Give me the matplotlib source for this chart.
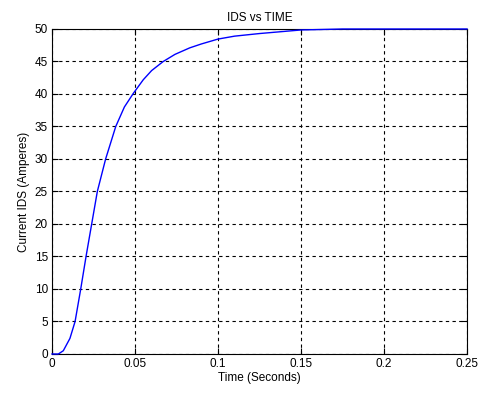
import matplotlib
matplotlib.use("Agg")
import matplotlib.pyplot as plt

# Data
time_s = [0.0, 0.0038, 0.0068, 0.0108, 0.0139, 0.0173, 0.0205, 0.0239, 0.0273,
          0.0323, 0.0384, 0.0436, 0.049, 0.055, 0.060, 0.067, 0.0741, 0.083,
          0.090, 0.100, 0.110, 0.125, 0.150, 0.175, 0.250]
current_a = [0.0, 0.0, 0.5, 2.4, 5.0, 10.0, 15.0, 20.0, 25.0,
             30.0, 35.0, 38.0, 40.1, 42.2, 43.6, 45.0, 46.1, 47.1,
             47.7, 48.45, 48.9, 49.3, 49.85, 50.0, 50.0]
xticks = [0, 0.05, 0.1, 0.15, 0.2, 0.25]
xticklabels = ["0", "0.05", "0.1", "0.15", "0.2", "0.25"]
yticks = [0, 5, 10, 15, 20, 25, 30, 35, 40, 45, 50]

plt.rcParams['font.family'] = ['Liberation Sans', 'DejaVu Sans']
fig = plt.figure(figsize=(4.82, 3.95), dpi=100)
ax = fig.add_axes([0.1079, 0.1038, 0.861, 0.8228])
ax.plot(time_s, current_a, color=(0, 0, 1), lw=1.0, clip_on=False, zorder=3)
ax.set_xlim(0, 0.25)
ax.set_ylim(0, 50)
ax.set_xticks(xticks)
ax.set_xticklabels(xticklabels)
ax.set_yticks(yticks)
ax.grid(True, color='black', linestyle=(0, (3, 3)), linewidth=0.8)
ax.tick_params(direction='in', top=True, right=True, labelsize=8.5, length=4, pad=3)
for s in ax.spines.values():
    s.set_linewidth(0.8)
ax.set_title("IDS vs TIME", fontsize=8.5, pad=6)
ax.set_xlabel("Time (Seconds)", fontsize=8.5, labelpad=1)
ax.set_ylabel("Current IDS (Amperes)", fontsize=8.5, labelpad=3)
fig.savefig("out.png", dpi=100)
